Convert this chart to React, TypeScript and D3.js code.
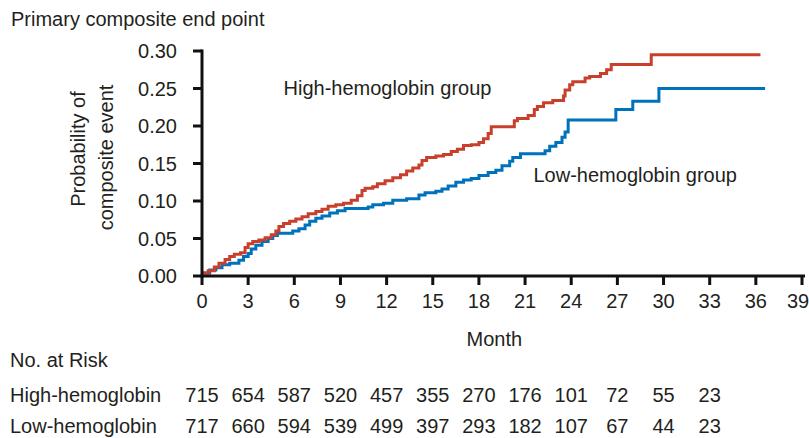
import React from "react";
import * as d3 from "d3";

// ---- Data ----
const highMonths = [0, 0.4, 0.8, 1.1, 1.5, 1.8, 2.1, 2.5, 2.8, 3.0, 3.3, 3.7, 4.1, 4.5, 4.8, 5.0, 5.3, 5.7, 6.1, 6.5, 6.9, 7.4, 7.8, 8.2, 8.7, 9.2, 9.7, 10.1, 10.4, 10.6, 11.1, 11.4, 11.9, 12.4, 12.9, 13.3, 13.7, 14.1, 14.3, 14.6, 15.2, 15.7, 16.2, 16.6, 17.0, 17.5, 18.0, 18.3, 18.6, 18.8, 20.3, 20.5, 21.2, 21.6, 21.8, 22.2, 22.8, 23.5, 23.6, 23.9, 24.1, 24.9, 25.2, 25.9, 26.3, 26.6, 29.2, 36.3];
const highValues = [0.004, 0.007, 0.012, 0.017, 0.022, 0.026, 0.029, 0.031, 0.038, 0.043, 0.046, 0.048, 0.051, 0.055, 0.06, 0.066, 0.07, 0.073, 0.076, 0.079, 0.083, 0.086, 0.089, 0.093, 0.095, 0.097, 0.101, 0.107, 0.114, 0.117, 0.119, 0.123, 0.127, 0.131, 0.135, 0.14, 0.144, 0.148, 0.154, 0.158, 0.16, 0.162, 0.166, 0.169, 0.174, 0.175, 0.178, 0.183, 0.19, 0.199, 0.207, 0.21, 0.214, 0.222, 0.226, 0.231, 0.234, 0.24, 0.248, 0.255, 0.259, 0.264, 0.266, 0.27, 0.275, 0.282, 0.295, 0.295];

const lowMonths = [0, 0.5, 0.9, 1.3, 1.8, 2.4, 2.7, 3.0, 3.2, 3.5, 3.9, 4.3, 4.6, 4.9, 5.9, 6.3, 6.7, 7.0, 7.4, 7.8, 8.3, 8.8, 9.3, 10.8, 11.1, 11.8, 12.4, 13.3, 14.1, 14.5, 15.2, 15.6, 16.0, 16.5, 17.0, 17.5, 18.0, 18.6, 19.1, 19.5, 20.0, 20.2, 20.7, 22.3, 22.6, 23.0, 23.4, 23.6, 23.8, 26.9, 28.0, 29.7, 36.6];
const lowValues = [0.004, 0.008, 0.011, 0.015, 0.017, 0.021, 0.026, 0.03, 0.036, 0.041, 0.046, 0.05, 0.054, 0.057, 0.06, 0.063, 0.068, 0.073, 0.077, 0.08, 0.084, 0.087, 0.09, 0.092, 0.095, 0.097, 0.101, 0.103, 0.108, 0.111, 0.113, 0.116, 0.12, 0.125, 0.128, 0.13, 0.134, 0.138, 0.141, 0.147, 0.153, 0.158, 0.163, 0.167, 0.173, 0.178, 0.185, 0.192, 0.208, 0.222, 0.233, 0.25, 0.25];

const xTicks = [0, 3, 6, 9, 12, 15, 18, 21, 24, 27, 30, 33, 36, 39];
const yTicks = [0, 0.05, 0.1, 0.15, 0.2, 0.25, 0.3];

const riskMonths = [0, 3, 6, 9, 12, 15, 18, 21, 24, 27, 30, 33];
const riskHigh = [715, 654, 587, 520, 457, 355, 270, 176, 101, 72, 55, 23];
const riskLow = [717, 660, 594, 539, 499, 397, 293, 182, 107, 67, 44, 23];

const RED = "#C8402C";
const BLUE = "#0072BC";
const INK = "#231F20";
const FONT = "'Liberation Sans', Arial, Helvetica, sans-serif";

export default function App() {
  const W = 809;
  const H = 438;
  const x = d3.scaleLinear().domain([0, 39]).range([202, 802]);
  const y = d3.scaleLinear().domain([0, 0.3]).range([276, 51]);

  const line = d3
    .line<[number, number]>()
    .x((d) => x(d[0]))
    .y((d) => y(d[1]))
    .curve(d3.curveStepAfter);

  const highPts: [number, number][] = highMonths.map((m, i) => [m, highValues[i]]);
  const lowPts: [number, number][] = lowMonths.map((m, i) => [m, lowValues[i]]);

  const fs = 20;

  return (
    <svg
      width={W}
      height={H}
      style={{ position: "absolute", left: 0, top: 0, background: "#fff" }}
      fontFamily={FONT}
      fontSize={fs}
      fill={INK}
    >
      <rect width={W} height={H} fill="#fff" />
      <text x={11} y={26}>Primary composite end point</text>

      {/* y label */}
      <text transform={`translate(85,149) rotate(-90)`} textAnchor="middle">Probability of</text>
      <text transform={`translate(112.5,157.5) rotate(-90)`} textAnchor="middle">composite event</text>

      {/* curves */}
      <path d={line(lowPts) || ""} fill="none" stroke={BLUE} strokeWidth={3} />
      <path d={line(highPts) || ""} fill="none" stroke={RED} strokeWidth={3} />

      {/* axes */}
      <line x1={x(0)} x2={x(0)} y1={y(0.3) - 1.5} y2={y(0) + 1.5} stroke="#111" strokeWidth={3} />
      <line x1={x(0) - 1.5} x2={x(39) + 3} y1={y(0)} y2={y(0)} stroke="#111" strokeWidth={3} />
      {yTicks.map((t) => (
        <g key={"y" + t}>
          <line x1={x(0) - 9} x2={x(0)} y1={y(t)} y2={y(t)} stroke="#111" strokeWidth={3} />
          <text x={177} y={y(t) + 7} textAnchor="end">{t.toFixed(2)}</text>
        </g>
      ))}
      {xTicks.map((t) => (
        <g key={"x" + t}>
          <line x1={x(t)} x2={x(t)} y1={y(0)} y2={y(0) + 9} stroke="#111" strokeWidth={3} />
          <text x={Math.min(x(t), W - 11)} y={307.5} textAnchor="middle">{t}</text>
        </g>
      ))}
      <text x={x(19)} y={346} textAnchor="middle">Month</text>

      {/* group labels */}
      <text x={283.5} y={95}>High-hemoglobin group</text>
      <text x={533.5} y={182}>Low-hemoglobin group</text>

      {/* risk table */}
      <text x={10} y={367}>No. at Risk</text>
      <text x={10} y={402}>High-hemoglobin</text>
      <text x={10} y={433}>Low-hemoglobin</text>
      {riskMonths.map((m, i) => (
        <text key={"h" + m} x={x(m)} y={402} textAnchor="middle">{riskHigh[i]}</text>
      ))}
      {riskMonths.map((m, i) => (
        <text key={"l" + m} x={x(m)} y={433} textAnchor="middle">{riskLow[i]}</text>
      ))}
    </svg>
  );
}
